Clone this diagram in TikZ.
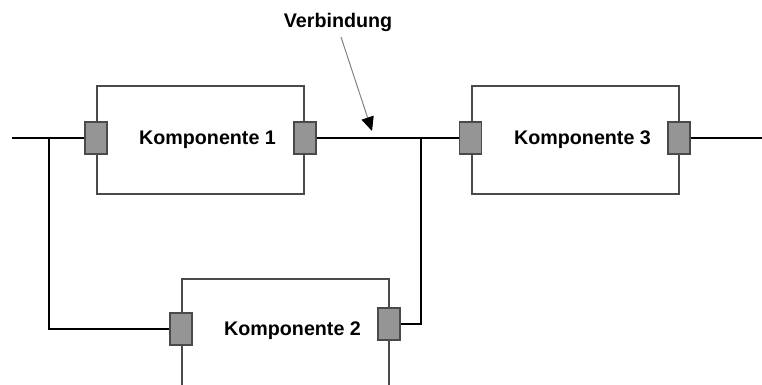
\documentclass[tikz,border=0pt]{standalone}
\usepackage{fontspec}
\setmainfont{Liberation Sans}
\usetikzlibrary{arrows.meta}
\definecolor{boxline}{HTML}{4A4A4A}
\definecolor{portfill}{HTML}{959595}
\begin{document}
\begin{tikzpicture}[x=0.025cm, y=-0.025cm]
    \useasboundingbox (0,0) rectangle (762,384);
    \tikzstyle{every node}=[font=\bfseries\fontsize{14}{16}\selectfont, text=black]
    \tikzstyle{comp}=[rectangle, draw=boxline, line width=0.9pt, fill=white, minimum width=5.175cm, minimum height=2.7cm, inner sep=0pt]
    \tikzstyle{port}=[rectangle, draw=boxline, fill=portfill, line width=0.9pt, minimum width=0.55cm, minimum height=0.8cm, inner sep=0pt]
    \tikzstyle{wire}=[black, line width=1pt]

    \node[comp] (k1) at (200.5,140) {\hspace{10pt}Komponente 1};
    \node[comp] (k3) at (575.5,140) {\hspace{10pt}Komponente 3};
    \node[comp] (k2) at (285.5,333) {\hspace{10pt}Komponente 2\raisebox{0pt}[0pt][6pt]{}};

    \node[port] (k1in) at (96,138) {};
    \node[port] (k1out) at (305,138) {};
    \node[port] (k3in) at (470.5,138) {};
    \node[port] (k3out) at (679,138) {};
    \node[port] (k2in) at (181,329) {};
    \node[port] (k2out) at (389,324) {};

    \coordinate (start) at (12,138);
    \coordinate (end) at (762,138);
    \coordinate (ja) at (49,138);
    \coordinate (jb) at (421,138);

    \draw[wire] (start) -- (k1in.west);
    \draw[wire] (ja) -- (ja |- k2in) -- (k2in.west);
    \draw[wire] (k1out.east) -- (k3in.west);
    \draw[wire] (jb) -- (jb |- k2out) -- (k2out.east);
    \draw[wire] (k3out.east) -- (end);

    \node (verb) at (338,22) {Verbindung};
    \coordinate (tip) at (372,131);
    \draw[gray, line width=0.7pt, -{Triangle[black, length=10pt, width=9pt]}] (341,37) -- (tip);
\end{tikzpicture}
\end{document}
